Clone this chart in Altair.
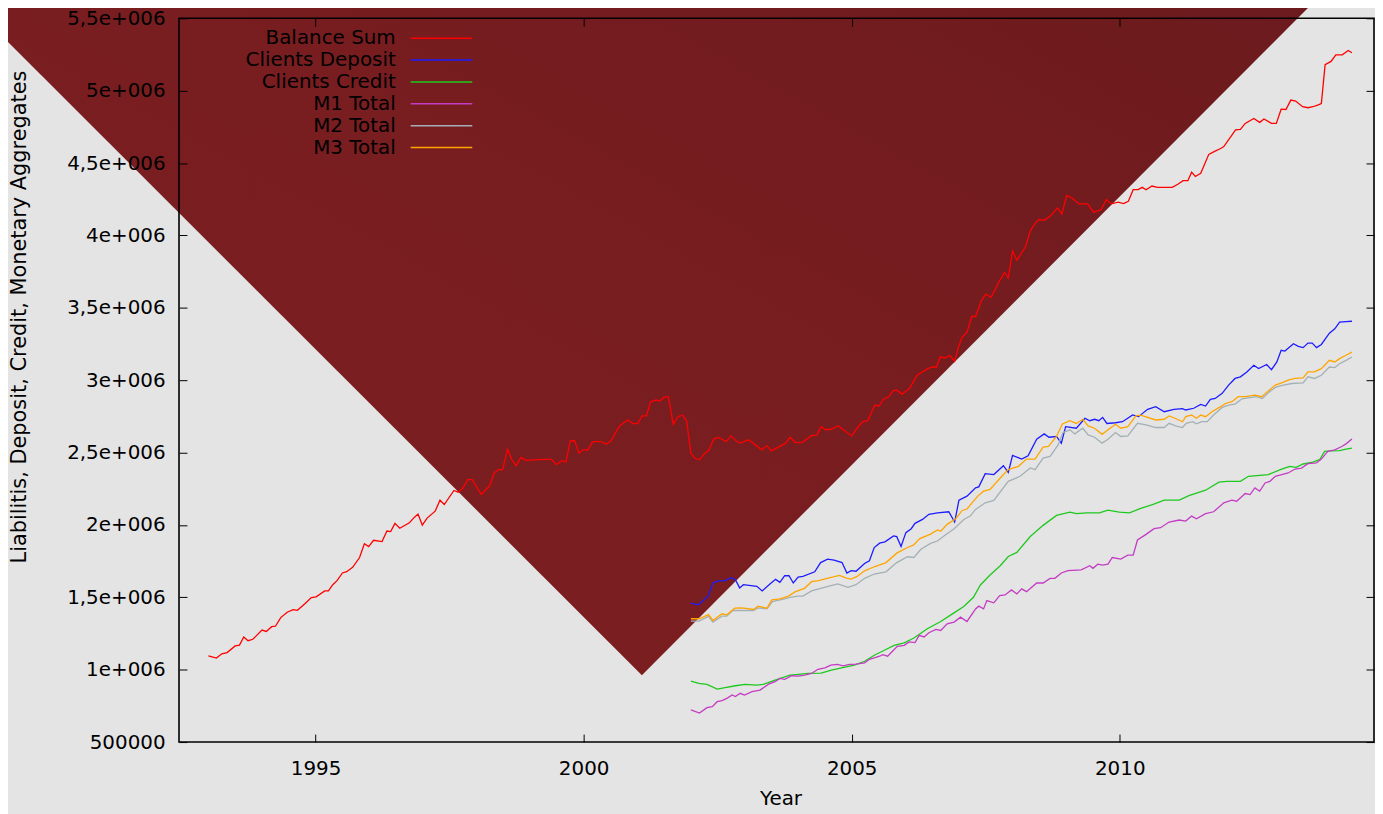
import altair as alt
import pandas as pd

FONT = "DejaVu Sans"

series_names = ["Balance Sum", "Clients Deposit", "Clients Credit", "M1 Total", "M2 Total", "M3 Total"]
series_colors = ["#ff0000", "#1c1cff", "#1ec81e", "#c43cc4", "#a4b0b6", "#ffa500"]

# (year, value in millions)
balance_sum = [(1993.00,1.095),(1993.15,1.080),(1993.25,1.110),(1993.35,1.118),(1993.50,1.164),(1993.58,1.170),(1993.66,1.226),(1993.74,1.200),(1993.83,1.210),(1994.00,1.274),(1994.08,1.264),(1994.18,1.297),(1994.25,1.300),(1994.35,1.360),(1994.47,1.397),(1994.58,1.415),(1994.66,1.410),(1994.80,1.455),(1994.92,1.498),(1995.01,1.503),(1995.17,1.544),(1995.24,1.544),(1995.32,1.587),(1995.40,1.615),(1995.50,1.668),(1995.58,1.677),(1995.69,1.707),(1995.82,1.775),(1995.91,1.870),(1995.99,1.850),(1996.08,1.894),(1996.24,1.885),(1996.33,1.958),(1996.40,1.954),(1996.48,2.011),(1996.57,1.977),(1996.75,2.015),(1996.84,2.052),(1996.91,2.075),(1996.99,1.999),(1997.08,2.047),(1997.23,2.095),(1997.32,2.171),(1997.40,2.141),(1997.58,2.238),(1997.66,2.226),(1997.75,2.256),(1997.84,2.313),(1997.92,2.313),(1998.00,2.265),(1998.09,2.210),(1998.25,2.272),(1998.33,2.359),(1998.41,2.382),(1998.49,2.382),(1998.58,2.524),(1998.66,2.450),(1998.74,2.409),(1998.83,2.466),(1998.92,2.446),(1999.25,2.453),(1999.40,2.453),(1999.49,2.416),(1999.59,2.444),(1999.67,2.435),(1999.75,2.581),(1999.83,2.583),(1999.91,2.496),(1999.99,2.519),(2000.08,2.519),(2000.17,2.576),(2000.33,2.576),(2000.42,2.558),(2000.51,2.581),(2000.67,2.684),(2000.82,2.725),(2000.93,2.698),(2001.01,2.702),(2001.09,2.753),(2001.17,2.753),(2001.25,2.851),(2001.35,2.863),(2001.42,2.856),(2001.50,2.881),(2001.58,2.886),(2001.67,2.696),(2001.76,2.748),(2001.84,2.760),(2001.92,2.720),(2002.00,2.496),(2002.07,2.462),(2002.16,2.450),(2002.26,2.496),(2002.33,2.514),(2002.43,2.595),(2002.51,2.604),(2002.58,2.592),(2002.66,2.576),(2002.75,2.615),(2002.84,2.581),(2002.92,2.565),(2003.08,2.588),(2003.32,2.519),(2003.42,2.548),(2003.50,2.512),(2003.77,2.565),(2003.85,2.606),(2003.95,2.569),(2004.08,2.571),(2004.24,2.615),(2004.35,2.622),(2004.43,2.679),(2004.51,2.657),(2004.61,2.661),(2004.75,2.684),(2005.00,2.615),(2005.10,2.668),(2005.20,2.712),(2005.30,2.720),(2005.43,2.828),(2005.51,2.821),(2005.59,2.867),(2005.69,2.885),(2005.77,2.926),(2005.84,2.931),(2005.94,2.904),(2006.08,2.943),(2006.21,3.030),(2006.28,3.050),(2006.42,3.080),(2006.51,3.091),(2006.58,3.091),(2006.65,3.160),(2006.74,3.155),(2006.83,3.170),(2006.92,3.130),(2006.99,3.229),(2007.06,3.298),(2007.15,3.332),(2007.24,3.440),(2007.31,3.440),(2007.42,3.550),(2007.50,3.595),(2007.60,3.572),(2007.74,3.675),(2007.85,3.744),(2007.92,3.705),(2008.00,3.893),(2008.08,3.829),(2008.24,3.920),(2008.33,4.030),(2008.42,4.083),(2008.49,4.110),(2008.59,4.104),(2008.70,4.133),(2008.84,4.190),(2008.92,4.149),(2009.01,4.277),(2009.11,4.259),(2009.24,4.218),(2009.40,4.218),(2009.51,4.161),(2009.65,4.177),(2009.75,4.248),(2009.84,4.218),(2009.97,4.230),(2010.07,4.220),(2010.16,4.236),(2010.25,4.316),(2010.34,4.316),(2010.42,4.332),(2010.49,4.316),(2010.60,4.341),(2010.70,4.332),(2010.98,4.332),(2011.09,4.355),(2011.18,4.378),(2011.27,4.378),(2011.34,4.437),(2011.41,4.407),(2011.51,4.430),(2011.66,4.560),(2011.76,4.579),(2011.89,4.602),(2011.94,4.614),(2012.16,4.729),(2012.25,4.733),(2012.34,4.774),(2012.50,4.808),(2012.61,4.781),(2012.69,4.804),(2012.83,4.774),(2012.92,4.774),(2013.01,4.872),(2013.10,4.870),(2013.19,4.935),(2013.28,4.928),(2013.41,4.889),(2013.51,4.882),(2013.60,4.889),(2013.69,4.900),(2013.76,4.911),(2013.83,5.179),(2013.94,5.202),(2014.03,5.248),(2014.15,5.248),(2014.26,5.278),(2014.33,5.262)]

clients_deposit = [(2002.00,1.460),(2002.14,1.448),(2002.32,1.508),(2002.41,1.599),(2002.51,1.613),(2002.64,1.615),(2002.75,1.636),(2002.83,1.622),(2002.91,1.565),(2002.98,1.587),(2003.23,1.576),(2003.33,1.544),(2003.48,1.594),(2003.58,1.624),(2003.66,1.603),(2003.75,1.649),(2003.83,1.649),(2003.91,1.599),(2004.00,1.640),(2004.09,1.644),(2004.31,1.676),(2004.42,1.740),(2004.55,1.764),(2004.67,1.757),(2004.82,1.740),(2004.91,1.668),(2004.99,1.684),(2005.08,1.680),(2005.24,1.734),(2005.33,1.752),(2005.42,1.844),(2005.52,1.874),(2005.62,1.883),(2005.78,1.924),(2005.84,1.919),(2005.92,1.851),(2006.01,1.947),(2006.11,1.974),(2006.18,2.011),(2006.32,2.038),(2006.44,2.073),(2006.60,2.084),(2006.81,2.091),(2006.92,2.020),(2007.00,2.171),(2007.15,2.199),(2007.31,2.256),(2007.37,2.263),(2007.49,2.354),(2007.65,2.348),(2007.83,2.409),(2007.92,2.363),(2008.00,2.480),(2008.17,2.455),(2008.29,2.478),(2008.45,2.593),(2008.59,2.629),(2008.68,2.606),(2008.82,2.611),(2008.91,2.565),(2008.99,2.679),(2009.19,2.668),(2009.35,2.737),(2009.44,2.720),(2009.53,2.730),(2009.61,2.720),(2009.68,2.743),(2009.76,2.701),(2009.92,2.706),(2010.05,2.713),(2010.24,2.760),(2010.35,2.748),(2010.52,2.799),(2010.67,2.817),(2010.83,2.782),(2011.01,2.799),(2011.17,2.804),(2011.23,2.794),(2011.38,2.806),(2011.51,2.833),(2011.60,2.821),(2011.69,2.867),(2011.78,2.874),(2011.91,2.909),(2012.03,2.966),(2012.15,3.012),(2012.25,3.023),(2012.37,3.057),(2012.50,3.103),(2012.59,3.080),(2012.74,3.108),(2012.83,3.073),(2012.93,3.126),(2013.01,3.206),(2013.08,3.201),(2013.24,3.252),(2013.33,3.234),(2013.42,3.225),(2013.51,3.256),(2013.59,3.256),(2013.67,3.225),(2013.76,3.247),(2013.91,3.325),(2014.01,3.355),(2014.10,3.401),(2014.22,3.405),(2014.33,3.407)]

clients_credit = [(2002.00,0.921),(2002.15,0.905),(2002.30,0.898),(2002.49,0.866),(2002.64,0.876),(2002.83,0.889),(2003.01,0.898),(2003.23,0.894),(2003.35,0.898),(2003.57,0.928),(2003.75,0.951),(2003.85,0.962),(2004.00,0.967),(2004.19,0.974),(2004.43,0.976),(2004.62,0.997),(2004.81,1.013),(2005.05,1.031),(2005.24,1.058),(2005.42,1.100),(2005.61,1.134),(2005.79,1.168),(2005.98,1.185),(2006.16,1.219),(2006.41,1.283),(2006.66,1.333),(2006.90,1.391),(2007.09,1.436),(2007.27,1.500),(2007.40,1.585),(2007.58,1.654),(2007.77,1.718),(2007.92,1.782),(2008.08,1.810),(2008.33,1.920),(2008.57,1.997),(2008.82,2.066),(2009.07,2.089),(2009.19,2.078),(2009.38,2.084),(2009.62,2.084),(2009.78,2.102),(2009.99,2.089),(2010.18,2.084),(2010.39,2.114),(2010.61,2.141),(2010.83,2.171),(2011.11,2.171),(2011.29,2.203),(2011.60,2.240),(2011.85,2.295),(2012.00,2.301),(2012.25,2.301),(2012.40,2.336),(2012.77,2.348),(2013.02,2.386),(2013.17,2.405),(2013.29,2.398),(2013.42,2.421),(2013.60,2.434),(2013.73,2.451),(2013.82,2.508),(2013.94,2.512),(2014.10,2.514),(2014.22,2.523),(2014.33,2.530)]

m1_total = [(2002.00,0.722),(2002.16,0.700),(2002.30,0.738),(2002.40,0.745),(2002.49,0.779),(2002.58,0.786),(2002.67,0.802),(2002.77,0.825),(2002.83,0.814),(2002.92,0.837),(2003.00,0.825),(2003.14,0.848),(2003.29,0.859),(2003.45,0.900),(2003.57,0.917),(2003.66,0.940),(2003.75,0.933),(2003.88,0.958),(2004.00,0.955),(2004.12,0.962),(2004.25,0.974),(2004.37,1.003),(2004.50,1.013),(2004.61,1.031),(2004.73,1.036),(2004.84,1.027),(2004.96,1.036),(2005.08,1.038),(2005.24,1.047),(2005.33,1.072),(2005.42,1.082),(2005.52,1.093),(2005.58,1.104),(2005.67,1.093),(2005.76,1.127),(2005.85,1.161),(2005.98,1.168),(2006.07,1.192),(2006.18,1.187),(2006.26,1.237),(2006.35,1.226),(2006.44,1.255),(2006.57,1.278),(2006.66,1.271),(2006.78,1.317),(2006.91,1.329),(2007.03,1.363),(2007.15,1.333),(2007.31,1.420),(2007.37,1.439),(2007.46,1.420),(2007.52,1.477),(2007.65,1.462),(2007.76,1.512),(2007.86,1.516),(2007.98,1.551),(2008.08,1.523),(2008.17,1.558),(2008.26,1.539),(2008.45,1.599),(2008.57,1.599),(2008.70,1.631),(2008.79,1.631),(2008.91,1.668),(2009.03,1.684),(2009.28,1.690),(2009.44,1.718),(2009.50,1.700),(2009.59,1.729),(2009.68,1.723),(2009.78,1.729),(2009.86,1.775),(2010.02,1.764),(2010.15,1.791),(2010.25,1.791),(2010.33,1.896),(2010.49,1.935),(2010.64,1.974),(2010.76,1.981),(2010.92,2.020),(2011.11,2.034),(2011.23,2.027),(2011.34,2.061),(2011.43,2.043),(2011.60,2.078),(2011.75,2.091),(2011.94,2.153),(2012.09,2.171),(2012.18,2.164),(2012.34,2.217),(2012.43,2.210),(2012.52,2.256),(2012.61,2.233),(2012.71,2.290),(2012.80,2.301),(2012.90,2.336),(2013.02,2.348),(2013.14,2.359),(2013.27,2.386),(2013.39,2.393),(2013.51,2.423),(2013.67,2.428),(2013.76,2.455),(2013.88,2.508),(2014.01,2.519),(2014.14,2.542),(2014.22,2.560),(2014.33,2.593)]

m2_total = [(2002.00,1.336),(2002.15,1.336),(2002.33,1.368),(2002.41,1.329),(2002.58,1.370),(2002.67,1.370),(2002.78,1.409),(2003.17,1.409),(2003.25,1.427),(2003.42,1.420),(2003.52,1.470),(2003.75,1.489),(2003.85,1.500),(2004.00,1.508),(2004.09,1.508),(2004.25,1.544),(2004.56,1.576),(2004.74,1.592),(2004.93,1.569),(2005.08,1.587),(2005.24,1.631),(2005.42,1.661),(2005.64,1.676),(2005.84,1.740),(2006.04,1.780),(2006.16,1.775),(2006.29,1.832),(2006.47,1.872),(2006.60,1.889),(2006.72,1.924),(2006.91,1.974),(2007.09,2.038),(2007.21,2.061),(2007.31,2.107),(2007.49,2.153),(2007.65,2.169),(2007.92,2.301),(2008.14,2.336),(2008.33,2.394),(2008.42,2.382),(2008.57,2.462),(2008.70,2.473),(2008.85,2.553),(2008.94,2.638),(2009.07,2.657),(2009.16,2.629),(2009.31,2.668),(2009.41,2.622),(2009.53,2.606),(2009.67,2.565),(2009.78,2.592),(2009.92,2.638),(2010.02,2.611),(2010.15,2.615),(2010.33,2.702),(2010.49,2.691),(2010.67,2.673),(2010.83,2.673),(2010.92,2.702),(2011.04,2.684),(2011.17,2.673),(2011.24,2.702),(2011.36,2.713),(2011.43,2.698),(2011.53,2.713),(2011.63,2.713),(2011.75,2.759),(2011.91,2.812),(2012.03,2.828),(2012.15,2.835),(2012.28,2.871),(2012.40,2.878),(2012.55,2.886),(2012.66,2.874),(2012.77,2.913),(2012.90,2.950),(2013.05,2.966),(2013.21,2.977),(2013.42,2.981),(2013.51,3.023),(2013.63,3.012),(2013.76,3.034),(2013.91,3.091),(2014.01,3.087),(2014.10,3.114),(2014.22,3.137),(2014.33,3.160)]

m3_total = [(2002.00,1.352),(2002.15,1.352),(2002.33,1.381),(2002.41,1.340),(2002.58,1.386),(2002.67,1.379),(2002.82,1.425),(2002.95,1.427),(2003.17,1.416),(2003.25,1.439),(2003.42,1.425),(2003.51,1.482),(2003.66,1.489),(2003.82,1.508),(2003.95,1.539),(2004.12,1.562),(2004.25,1.608),(2004.38,1.615),(2004.56,1.633),(2004.77,1.652),(2004.90,1.633),(2004.99,1.626),(2005.10,1.644),(2005.24,1.683),(2005.42,1.711),(2005.64,1.740),(2005.84,1.805),(2006.04,1.844),(2006.15,1.860),(2006.27,1.906),(2006.46,1.935),(2006.60,1.965),(2006.66,1.956),(2006.78,2.004),(2006.94,2.043),(2007.06,2.100),(2007.15,2.110),(2007.35,2.199),(2007.46,2.233),(2007.58,2.245),(2007.80,2.336),(2007.92,2.382),(2008.11,2.405),(2008.26,2.455),(2008.42,2.455),(2008.57,2.538),(2008.67,2.542),(2008.82,2.611),(2008.93,2.698),(2009.07,2.720),(2009.19,2.701),(2009.31,2.730),(2009.41,2.684),(2009.53,2.668),(2009.67,2.626),(2009.78,2.657),(2009.92,2.696),(2010.02,2.668),(2010.15,2.679),(2010.30,2.753),(2010.39,2.759),(2010.67,2.725),(2010.83,2.730),(2010.92,2.753),(2011.03,2.737),(2011.17,2.713),(2011.23,2.748),(2011.34,2.759),(2011.43,2.737),(2011.51,2.759),(2011.60,2.748),(2011.72,2.782),(2011.88,2.817),(2011.97,2.839),(2012.09,2.851),(2012.21,2.886),(2012.34,2.886),(2012.52,2.897),(2012.65,2.886),(2012.77,2.926),(2012.90,2.966),(2013.02,2.981),(2013.14,3.000),(2013.27,3.012),(2013.42,3.016),(2013.51,3.057),(2013.63,3.057),(2013.76,3.080),(2013.91,3.137),(2014.01,3.126),(2014.10,3.149),(2014.22,3.172),(2014.33,3.194)]

# decorative dark-red V backdrop (in data space)
backdrop_years = [1989.0, 2001.086, 2014.9]
backdrop_values = [5.433, 0.962, 6.087]
backdrop_top = 6.3

year_ticks = [1995, 2000, 2005, 2010]
value_ticks = [500000 * i for i in range(1, 12)]
x_domain = [1992.452, 2014.742]
y_domain = [500000, 5500000]

all_series = [balance_sum, clients_deposit, clients_credit, m1_total, m2_total, m3_total]
rows = []
for name, pts in zip(series_names, all_series):
    for yr, v in pts:
        rows.append({"series": name, "year": yr, "value": v * 1e6})
df = pd.DataFrame(rows)

bd = pd.DataFrame({"year": backdrop_years,
                   "value": [v * 1e6 for v in backdrop_values],
                   "top": [backdrop_top * 1e6] * len(backdrop_years)})

W, H = 1202, 728
x_scale = alt.Scale(domain=x_domain, nice=False, zero=False)
y_scale = alt.Scale(domain=y_domain, nice=False, zero=False)

y_label_expr = ("datum.value == 500000 ? '500000' : "
                "replace(format(datum.value / 1000000, '~g'), '.', ',') + 'e+006'")

main_x_axis = alt.Axis(orient="bottom", values=year_ticks, format="d", offset=-8, tickSize=8,
                       tickColor="black", tickWidth=1, domain=False, grid=False,
                       labelFont=FONT, labelFontSize=20, labelColor="black", labelPadding=17,
                       title="Year", titleFont=FONT, titleFontSize=20, titleFontWeight="normal",
                       titleColor="black", titleX=605, titleY=65, titleBaseline="middle", zindex=1)
main_y_axis = alt.Axis(orient="left", values=value_ticks, labelExpr=y_label_expr, offset=-8, tickSize=8,
                       tickColor="black", tickWidth=1, domain=False, grid=False,
                       labelFont=FONT, labelFontSize=20, labelColor="black", labelPadding=14,
                       title="Liabilitis, Deposit, Credit, Monetary Aggregates",
                       titleFont=FONT, titleFontSize=21, titleFontWeight="normal", titleColor="black",
                       titleAngle=270, titleX=-168, titleY=300, titleAlign="center",
                       titleBaseline="middle", zindex=1)
mirror_x_axis = alt.Axis(orient="top", values=year_ticks, offset=-8, tickSize=8, tickColor="black",
                         labels=False, domain=False, grid=False, title=None, zindex=1)
mirror_y_axis = alt.Axis(orient="right", values=value_ticks, offset=-8, tickSize=8, tickColor="black",
                         labels=False, domain=False, grid=False, title=None, zindex=1)

vee = alt.Chart(bd).mark_area(
    color=alt.LinearGradient(
        gradient="linear",
        stops=[alt.GradientStop(color="#7d1f21", offset=0),
               alt.GradientStop(color="#781d20", offset=0.5),
               alt.GradientStop(color="#691a1d", offset=1)],
        x1=0, y1=1, x2=1, y2=0),
    clip=False,
).encode(
    x=alt.X("year:Q", scale=x_scale, axis=main_x_axis),
    y=alt.Y("value:Q", scale=y_scale, axis=main_y_axis),
    y2="top:Q",
)

border = alt.Chart(alt.Data(values=[{}])).mark_rect(
    fill="transparent", stroke="black", strokeWidth=1.6
).encode(x=alt.value(0), x2=alt.value(W), y=alt.value(0), y2=alt.value(H))

legend = alt.Legend(orient="none", legendX=144, legendY=10, title=None, direction="vertical",
                    labelAlign="right", labelOffset={"expr": "-56"}, symbolOffset=110,
                    symbolType="M-31,0H31", symbolSize=4,
                    symbolStrokeWidth=1.5, labelFont=FONT, labelFontSize=20, labelColor="black",
                    rowPadding=2, padding=0, labelLimit=400, zindex=1)

lines = alt.Chart(df).mark_line(strokeWidth=1.3).encode(
    x=alt.X("year:Q", scale=x_scale, axis=mirror_x_axis),
    y=alt.Y("value:Q", scale=y_scale, axis=mirror_y_axis),
    color=alt.Color("series:N", scale=alt.Scale(domain=series_names, range=series_colors),
                    legend=legend),
)

chart = alt.layer(vee, border, lines).resolve_axis(
    x="independent", y="independent"
).properties(
    width=W, height=H,
    autosize=alt.AutoSizeParams(type="none"),
    padding={"left": 172, "top": 8, "right": 1, "bottom": 70},
    background="#e4e4e4",
).configure_view(stroke=None)

chart.save("out.html", embed_options={"renderer": "svg", "actions": False})
